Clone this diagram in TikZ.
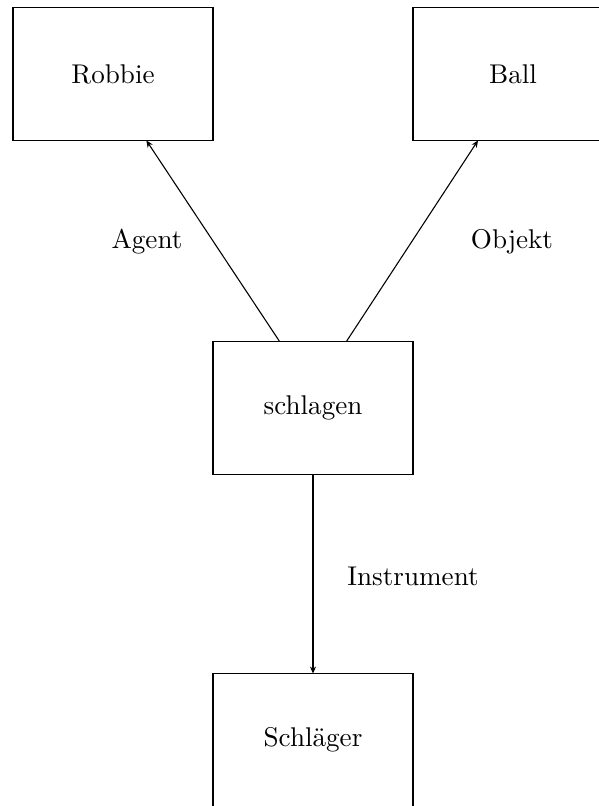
\documentclass[tikz,border=0pt]{standalone}
\usetikzlibrary{arrows.meta}
\begin{document}
\begin{tikzpicture}[x=0.369pt,y=-0.369pt,
    box/.style={draw,line width=0.55pt,minimum width=73.8pt,minimum height=49pt,inner sep=0pt,outer sep=0pt},
    rel/.style={-{Stealth[length=2.6pt,width=2.2pt]},line width=0.4pt}]
      \clip (0,0) rectangle (599,806);
      \node[box] (R) at (113,74) {Robbie};
      \node[box] (B) at (513,74) {Ball};
      \node[box] (S) at (313,408) {schlagen};
      \node[box] (K) at (313,740) {Schl\"ager};

      \node (a) at (147,242) {Agent};
      \node (o) at (512,242) {Objekt};
      \node (i) at (413,576) {Instrument};

      \draw[rel] ([xshift=-12.3pt]S.north) -- ([xshift=12.3pt]R.south);
      \draw[rel] ([xshift=12.3pt]S.north) -- ([xshift=-12.9pt]B.south);
      \draw[rel] (S) -- (K);
    \end{tikzpicture}
\end{document}
